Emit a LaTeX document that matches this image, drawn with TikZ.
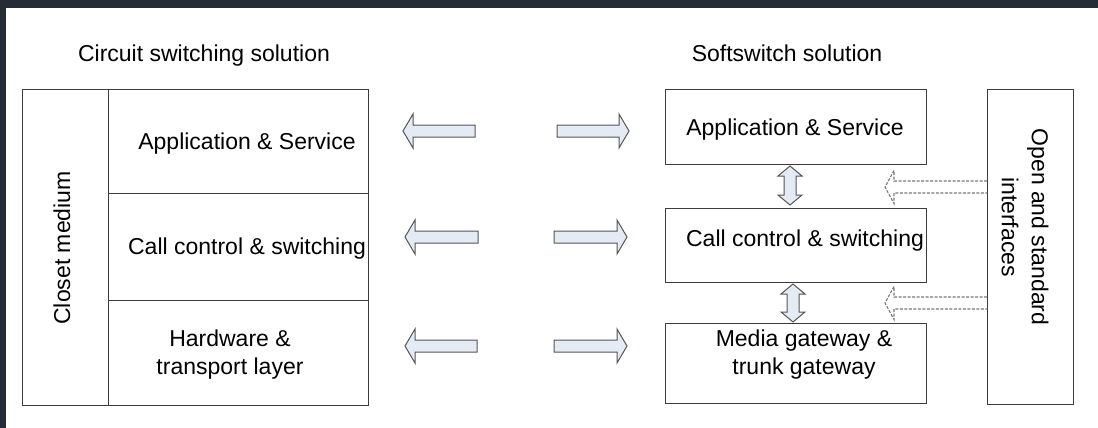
\documentclass[tikz,border=0pt]{standalone}
\usepackage{fontspec}
\setmainfont{Liberation Sans}
\definecolor{framec}{HTML}{262C35}
\definecolor{boxc}{HTML}{3C3C3C}
\definecolor{arrc}{HTML}{555555}
\definecolor{arrf}{HTML}{E4EBF5}
\definecolor{dashc}{HTML}{7A7A7A}
\newcommand\leftblk[3]{\draw[blk] (#1,#2) -- ++(10,-17) -- ++(0,11) -- (#3,#2-6) -- (#3,#2+6) -- (#1+10,#2+6) -- ++(0,11) -- cycle;}
\newcommand\rightblk[3]{\draw[blk] (#1,#2) -- ++(-10,-17) -- ++(0,11) -- (#3,#2-6) -- (#3,#2+6) -- (#1-10,#2+6) -- ++(0,11) -- cycle;}
\newcommand\vblk[3]{\draw[blk] (#1,#2) -- ++(12,10) -- ++(-6,0) -- (#1+6,#3-10) -- ++(6,0) -- (#1,#3) -- ++(-12,-10) -- ++(6,0) -- (#1-6,#2+10) -- ++(-6,0) -- cycle;}
\newcommand\dashblk[3]{\draw[dsh] (#3,#2-6) -- (#1+9,#2-6) -- (#1+9,#2-16.5) -- (#1,#2) -- (#1+9,#2+16.5) -- (#1+9,#2+6) -- (#3,#2+6);}
\begin{document}
\begin{tikzpicture}[x=1pt,y=-1pt,
  box/.style={draw=boxc, line width=1.4pt, inner sep=0pt, anchor=north west},
  txt/.style={font=\fontsize{23}{27}\selectfont, text=black, align=center, inner sep=0pt},
  blk/.style={draw=arrc, fill=arrf, line width=1pt, line join=miter},
  dsh/.style={draw=dashc, dash pattern=on 3pt off 1.5pt, line width=1.1pt}]
\fill[framec] (0,0) rectangle (1098,428);
\fill[white] (6,8) rectangle (1098,428);
\useasboundingbox (0,0) rectangle (1098,428);

% titles
\node[txt, anchor=base] (t1) at (204,62) {Circuit switching solution};
\node[txt, anchor=base] (t2) at (787,62) {Softswitch solution};

% circuit switching stack
\node[box, minimum width=86pt, minimum height=316pt] (closet) at (22,89) {};
\node[box, minimum width=260pt, minimum height=104pt] (capp) at (108,89) {};
\node[box, minimum width=260pt, minimum height=107pt] (ccall) at (108,193) {};
\node[box, minimum width=260pt, minimum height=105pt] (chw) at (108,300) {};
\node[txt, rotate=90] (closett) at (62,248) {Closet medium};
\node[txt] (cappt) at (247,144) {Application \& Service};
\node[txt] (ccallt) at (247,249) {Call control \& switching};
\node[txt, font=\fontsize{23}{28}\selectfont] (chwt) at (230,355) {Hardware \&\\transport layer};

% softswitch stack
\node[box, minimum width=261pt, minimum height=75pt] (sapp) at (665,89) {};
\node[box, minimum width=261pt, minimum height=74pt] (scall) at (665,208) {};
\node[box, minimum width=261pt, minimum height=80pt] (smedia) at (665,323) {};
\node[box, minimum width=86pt, minimum height=315pt] (open) at (987,89) {};
\node[txt] (sappt) at (795,130) {Application \& Service};
\node[txt] (scallt) at (805,241) {Call control \& switching};
\node[txt, font=\fontsize{23}{28}\selectfont] (smediat) at (804,355) {Media gateway \&\\trunk gateway};
\node[txt, rotate=-90, font=\fontsize{23}{30}\selectfont] (opent) at (1025,227) {Open and standard\\interfaces};

% horizontal block arrows
\leftblk{403}{131}{475}
\rightblk{629}{131}{557}
\leftblk{405}{237}{478}
\rightblk{627}{237}{554}
\leftblk{405}{346}{477}
\rightblk{627}{346}{554}

% vertical double arrows
\vblk{790}{166}{205}
\vblk{793}{284}{322}

% dashed arrows from open interfaces
\dashblk{885}{187}{987}
\dashblk{885}{303}{987}
\end{tikzpicture}
\end{document}
